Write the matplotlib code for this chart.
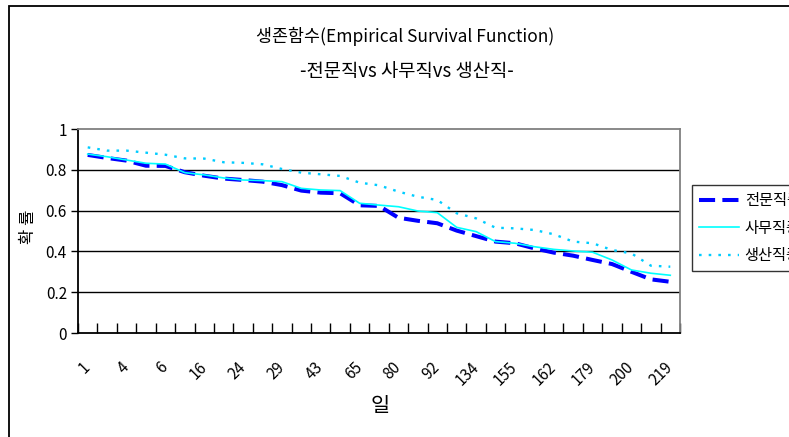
import matplotlib
matplotlib.use("Agg")
import matplotlib.pyplot as plt
from matplotlib.patches import Rectangle
from matplotlib.ticker import FixedLocator, NullFormatter

plt.rcParams['font.family'] = ['Noto Sans CJK KR', 'DejaVu Sans']

# Elapsed days (category axis); every second label is shown
days = [1, 2, 4, 5, 6, 10, 16, 20, 24, 27, 29, 36, 43, 53, 65, 72,
        80, 86, 92, 110, 134, 148, 155, 159, 162, 170, 179, 190, 200, 205, 219]

# Empirical survival probabilities by occupation group
professional = [0.873, 0.858, 0.845, 0.820, 0.819, 0.788, 0.771, 0.757, 0.750, 0.742,
                0.725, 0.698, 0.688, 0.685, 0.626, 0.623, 0.565, 0.550, 0.538, 0.502,
                0.475, 0.448, 0.440, 0.415, 0.394, 0.379, 0.358, 0.338, 0.300, 0.263, 0.251]
clerical = [0.877, 0.864, 0.848, 0.832, 0.828, 0.786, 0.775, 0.760, 0.750, 0.747,
            0.742, 0.709, 0.701, 0.698, 0.636, 0.627, 0.619, 0.598, 0.590, 0.518,
            0.497, 0.448, 0.440, 0.423, 0.410, 0.402, 0.396, 0.358, 0.309, 0.293, 0.283]
production = [0.910, 0.894, 0.894, 0.884, 0.874, 0.856, 0.855, 0.837, 0.834, 0.827,
              0.804, 0.786, 0.778, 0.770, 0.737, 0.724, 0.693, 0.668, 0.652, 0.587,
              0.562, 0.516, 0.513, 0.505, 0.484, 0.448, 0.440, 0.407, 0.390, 0.330, 0.325]

series_names = ['전문직종', '사무직종', '생산직종']
title_lines = ['생존함수(Empirical Survival Function)', '-전문직vs 사무직vs 생산직-']
y_ticks = [0, 0.2, 0.4, 0.6, 0.8, 1]

W, H = 789, 437
fig = plt.figure(figsize=(W / 100, H / 100), dpi=100)
fig.patch.set_facecolor('white')

# Chart-area frame (runs past the right and bottom edges)
fig.patches.append(Rectangle((9 / W, -0.1), 1.2, 1 - 6 / H + 0.1,
                             transform=fig.transFigure, fill=False,
                             edgecolor='black', linewidth=1.3))

ax = fig.add_axes([78 / W, 1 - 333 / H, (680 - 78) / W, (333 - 129) / H])
x = list(range(1, len(days) + 1))

ax.plot(x, professional, color='#0000FF', linewidth=2.9,
        linestyle=(0, (4.0, 1.8)), label=series_names[0], zorder=3)
ax.plot(x, clerical, color='#00FFFF', linewidth=1.2,
        label=series_names[1], zorder=4)
ax.plot(x, production, color='#00CCFF', linewidth=1.7,
        linestyle=(0, (1.1, 3.0)), label=series_names[2], zorder=5)

ax.set_xlim(0.5, len(days) + 0.5)
ax.set_ylim(0, 1)

for v in y_ticks[1:-1]:
    ax.axhline(v, color='black', linewidth=1.0, zorder=1)

ax.set_yticks(y_ticks)
ax.set_yticklabels([f'{v:g}' for v in y_ticks])
ax.tick_params(axis='y', direction='out', length=5, width=1, labelsize=11, pad=3)

ax.set_xticks(x[::2])
ax.set_xticklabels([str(d) for d in days[::2]], rotation=45, ha='right',
                   va='center', rotation_mode='anchor')
ax.tick_params(axis='x', which='major', length=0, labelsize=11, pad=23)
ax.xaxis.set_minor_locator(FixedLocator([i + 0.5 for i in range(0, len(days) + 1)]))
ax.xaxis.set_minor_formatter(NullFormatter())
ax.tick_params(axis='x', which='minor', direction='in', length=7, width=1)

for side in ('left', 'bottom'):
    ax.spines[side].set_color('black')
    ax.spines[side].set_linewidth(1.3)
for side in ('top', 'right'):
    ax.spines[side].set_color('#808080')
    ax.spines[side].set_linewidth(1.3)

ax.set_ylabel('확 률', fontsize=12)
ax.yaxis.set_label_coords(-0.068, 0.52)
fig.text(380 / W, 1 - 406 / H, '일', fontsize=15, ha='center', va='center')

fig.text(405 / W, 1 - 36 / H, title_lines[0], fontsize=12.5, ha='center',
         va='center')
fig.text(407 / W, 1 - 72 / H, title_lines[1], fontsize=13.5, ha='center',
         va='center')

leg = ax.legend(loc='upper left', bbox_to_anchor=(692 / W, 1 - 185 / H),
                bbox_transform=fig.transFigure, fontsize=11, frameon=True,
                fancybox=False, handlelength=2.6, handletextpad=0.4,
                labelspacing=0.7, borderpad=0.45, borderaxespad=0)
leg.get_frame().set_edgecolor('black')
leg.get_frame().set_linewidth(1.0)

fig.savefig('out.png', dpi=100)
